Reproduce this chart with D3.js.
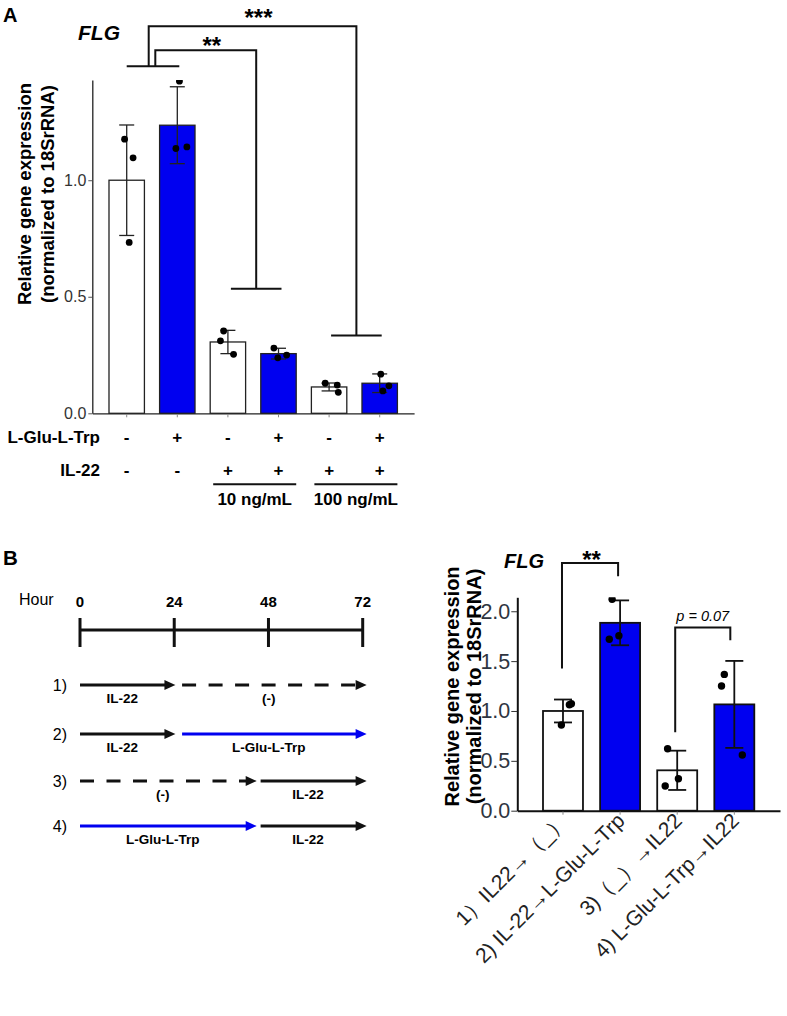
<!DOCTYPE html>
<html><head><meta charset="utf-8">
<script src="https://cdn.jsdelivr.net/npm/d3@7"></script>
<style>body{margin:0;background:#fff}svg{display:block}text{font-family:"Liberation Sans",Arial,sans-serif}</style>
</head><body><svg id="c" width="787" height="1016"></svg>
<script>
// ---------- Panel A data ----------
const catsA = ["a1","a2","a3","a4","a5","a6"];
const gluA = ["-","+","-","+","-","+"];
const il22A = ["-","-","+","+","+","+"];
const meanA = [1.0, 1.236, 0.306, 0.256, 0.113, 0.129];
const sdA = [0.237, 0.165, 0.05, 0.023, 0.017, 0.04];
const ptsA = [[1.176,1.096,0.733],[1.425,1.136,1.143],[0.353,0.311,0.253],[0.28,0.238,0.25],[0.129,0.121,0.09],[0.168,0.118,0.096]];
const jitA = [[-0.06,0.18,0.07],[0.06,-0.04,0.27],[-0.12,-0.21,0.16],[-0.13,-0.02,0.23],[-0.11,0.23,0.26],[0.03,0.26,0.09]];
const ticksA = [0, 0.5, 1.0];
const doseA = ["10 ng/mL","100 ng/mL"];

// ---------- Panel B chart data ----------
const catsB = ["1）IL22→（_）","2) IL-22→L-Glu-L-Trp","3)（_）→IL22","4) L-Glu-L-Trp→IL22"];
const meanB = [1.0, 1.884, 0.405, 1.066];
const sdB = [0.115, 0.225, 0.197, 0.436];
const ptsB = [[0.859,1.063,1.072],[1.72,1.754,2.12],[0.621,0.247,0.32],[1.367,1.25,0.558]];
const jitB = [[-0.04,0.16,0.21],[-0.27,-0.03,-0.2],[-0.24,-0.3,0.03],[-0.25,-0.32,0.2]];
const treatB = ["-","+","-","+"];
const ticksB = [0, 0.5, 1.0, 1.5, 2.0];

// ---------- Panel B timeline data ----------
const hours = [0, 24, 48, 72];
const rowNames = ["1)","2)","3)","4)"];
const segRow   = [0, 0, 1, 1, 2, 2, 3, 3];
const segStart = [0, 26, 0, 26, 0, 46, 0, 46];
const segEnd   = [24.3, 73, 24.3, 73, 45, 73, 45, 73];
const segColor = ["k","k","k","b","k","k","b","k"];
const segDash  = [false,true,false,false,true,false,false,false];
const segLabel = ["IL-22","(-)","IL-22","L-Glu-L-Trp","(-)","IL-22","L-Glu-L-Trp","IL-22"];

const BLUE = "#0000f0";
const svg = d3.select("#c");

// ================= Panel A =================
svg.append("text").attr("x",3).attr("y",21.5).attr("font-size",20).attr("font-weight","bold").text("A");
svg.append("text").attr("x",78).attr("y",40).attr("font-size",21).attr("font-weight","bold").attr("font-style","italic").text("FLG");

const xA = d3.scaleBand().domain(catsA).range([92.3, 414.1]).paddingInner(0.3).paddingOuter(0.33);
const yA = d3.scaleLinear().domain([0, 1.43]).range([413.3, 80]);
const bwA = xA.bandwidth();
const cA = i => xA(catsA[i]) + bwA/2;

const yAxA = svg.append("g").attr("transform","translate(92.3,0)")
  .call(d3.axisLeft(yA).tickValues(ticksA).tickFormat(d3.format(".1f")).tickSize(4).tickSizeOuter(0).tickPadding(2));
yAxA.select(".domain").attr("stroke","#222").attr("stroke-width",1.3);
yAxA.selectAll(".tick line").attr("stroke","#555");
yAxA.selectAll(".tick text").attr("font-size",16).attr("fill","#333").attr("font-family","Liberation Sans, Arial");

const xAxA = svg.append("g").attr("transform","translate(0,413.3)")
  .call(d3.axisBottom(xA).tickSize(4).tickSizeOuter(0).tickFormat(""));
xAxA.select(".domain").attr("stroke","#222").attr("stroke-width",1.3);
xAxA.selectAll(".tick line").attr("stroke","#888");

svg.append("g").selectAll("rect").data(meanA).join("rect")
  .attr("x",(d,i)=>xA(catsA[i])).attr("y",d=>yA(d)).attr("width",bwA).attr("height",d=>yA(0)-yA(d))
  .attr("fill",(d,i)=>gluA[i]==="+"?BLUE:"#fff").attr("stroke","#222").attr("stroke-width",1.3);

const errA = svg.append("g").attr("stroke","#222").attr("stroke-width",1.3);
meanA.forEach((m,i)=>{
  const c=cA(i), hi=yA(m+sdA[i]), lo=yA(m-sdA[i]);
  errA.append("line").attr("x1",c).attr("x2",c).attr("y1",hi).attr("y2",lo);
  errA.append("line").attr("x1",c-7.5).attr("x2",c+7.5).attr("y1",hi).attr("y2",hi);
  errA.append("line").attr("x1",c-7.5).attr("x2",c+7.5).attr("y1",lo).attr("y2",lo);
});
svg.append("clipPath").attr("id","clipA").append("rect").attr("x",92).attr("y",80).attr("width",330).attr("height",340);
const dotsA = svg.append("g").attr("clip-path","url(#clipA)");
ptsA.forEach((arr,i)=>arr.forEach((v,j)=>{
  dotsA.append("circle").attr("cx",cA(i)+jitA[i][j]*bwA).attr("cy",yA(v)).attr("r",3.4).attr("fill","#000");
}));

// brackets A
const brA = svg.append("g").attr("fill","none").attr("stroke","#111").attr("stroke-width",2);
const midA12 = (cA(0)+cA(1))/2;
const s1 = midA12-3.3, s2 = midA12+3.3;
brA.append("path").attr("d",`M${cA(0)},${yA(1.489)}H${cA(1)+2}`);
const h34 = (cA(2)+cA(3))/2+3, h56 = (cA(4)+cA(5))/2+2;
const hw = xA.step()/2;
brA.append("path").attr("d",`M${s2},${yA(1.489)}V${yA(1.558)}H${h34}V${yA(0.534)}M${h34-hw},${yA(0.534)}H${h34+hw}`);
brA.append("path").attr("d",`M${s1},${yA(1.489)}V${yA(1.661)}H${h56}V${yA(0.334)}M${h56-hw},${yA(0.334)}H${h56+hw}`);
svg.append("text").attr("x",(s2+h34)/2+6).attr("y",54).attr("text-anchor","middle").attr("font-size",24).attr("font-weight","bold").text("**");
svg.append("text").attr("x",(s1+h56)/2+6).attr("y",25.5).attr("text-anchor","middle").attr("font-size",24).attr("font-weight","bold").text("***");

// y label A
const ylA = svg.append("g").attr("font-size",18.5).attr("font-weight","bold").attr("text-anchor","middle");
ylA.append("text").attr("transform","translate(30.5,194) rotate(-90)").text("Relative gene expression");
ylA.append("text").attr("transform","translate(54,194) rotate(-90)").text("(normalized to 18SrRNA)");

// condition rows
const rowsA = svg.append("g").attr("font-size",17).attr("font-weight","bold");
rowsA.append("text").attr("x",100).attr("y",442.5).attr("text-anchor","end").text("L-Glu-L-Trp");
rowsA.append("text").attr("x",100).attr("y",475.5).attr("text-anchor","end").text("IL-22");
gluA.forEach((s,i)=>rowsA.append("text").attr("x",cA(i)).attr("y",442.5).attr("text-anchor","middle").text(s));
il22A.forEach((s,i)=>rowsA.append("text").attr("x",cA(i)).attr("y",475.5).attr("text-anchor","middle").text(s));
doseA.forEach((t,k)=>{
  const a=xA(catsA[2+2*k])+3, b=xA(catsA[3+2*k])+bwA;
  svg.append("line").attr("x1",a).attr("x2",b).attr("y1",484.3).attr("y2",484.3).attr("stroke","#111").attr("stroke-width",2);
  rowsA.append("text").attr("x",(a+b)/2).attr("y",505).attr("text-anchor","middle").text(t);
});

// ================= Panel B timeline =================
svg.append("text").attr("x",3).attr("y",565).attr("font-size",20.5).attr("font-weight","bold").text("B");
const xT = d3.scaleLinear().domain([0,72]).range([80, 362.7]);
svg.append("text").attr("x",19).attr("y",605).attr("font-size",16).text("Hour");
const tl = svg.append("g").attr("stroke","#111").attr("stroke-width",3);
tl.append("line").attr("x1",xT(0)).attr("x2",xT(72)).attr("y1",630).attr("y2",630);
hours.forEach(h=>{
  tl.append("line").attr("x1",xT(h)).attr("x2",xT(h)).attr("y1",618).attr("y2",647);
  svg.append("text").attr("x",xT(h)).attr("y",606.5).attr("text-anchor","middle").attr("font-size",15).attr("font-weight","bold").text(h);
});
const rowY = [685, 734, 781, 826];
rowNames.forEach((r,i)=>svg.append("text").attr("x",67).attr("y",rowY[i]+5.5).attr("text-anchor","end").attr("font-size",16).text(r));
segRow.forEach((r,k)=>{
  const y=rowY[r], col=segColor[k]==="b"?BLUE:"#111";
  const a=xT(segStart[k]), tip=xT(segEnd[k]), body=tip-11;
  const ln=svg.append("line").attr("x1",a).attr("x2",body+1).attr("y1",y).attr("y2",y).attr("stroke",col).attr("stroke-width",3);
  if(segDash[k]) ln.attr("stroke-dasharray","14,12.5");
  svg.append("path").attr("d",`M${body},${y-5}L${tip},${y}L${body},${y+5}Z`).attr("fill",col);
  svg.append("text").attr("x",(a+body)/2).attr("y",y+18).attr("text-anchor","middle").attr("font-size",13.5).attr("font-weight","bold").text(segLabel[k]);
});

// ================= Panel B chart =================
svg.append("text").attr("x",504).attr("y",568).attr("font-size",20).attr("font-weight","bold").attr("font-style","italic").text("FLG");
const xB = d3.scaleBand().domain(catsB).range([517.3, 780]).paddingInner(0.3).paddingOuter(0.45);
const yB = d3.scaleLinear().domain([0, 2.14]).range([810.7, 597.3]);
const bwB = xB.bandwidth();
const cB = i => xB(catsB[i]) + bwB/2;

const yAxB = svg.append("g").attr("transform","translate(517.3,0)")
  .call(d3.axisLeft(yB).tickValues(ticksB).tickFormat(d3.format(".1f")).tickSize(6).tickSizeOuter(0).tickPadding(1));
yAxB.select(".domain").attr("stroke","#111").attr("stroke-width",2);
yAxB.selectAll(".tick line").attr("stroke","#333");
yAxB.selectAll(".tick text").attr("font-size",21.5).attr("fill","#2e3440").attr("font-family","Liberation Sans, Arial");

const xAxB = svg.append("g").attr("transform","translate(0,810.7)")
  .call(d3.axisBottom(xB).tickSize(4).tickSizeOuter(0).tickFormat(""));
xAxB.select(".domain").attr("stroke","#111").attr("stroke-width",2);
xAxB.selectAll(".tick line").attr("stroke","#888");

const ylB = svg.append("g").attr("font-size",20).attr("font-weight","bold").attr("text-anchor","middle");
ylB.append("text").attr("transform","translate(459,686.5) rotate(-90)").text("Relative gene expression");
ylB.append("text").attr("transform","translate(481,686.5) rotate(-90)").text("(normalized to 18SrRNA)");

svg.append("g").selectAll("rect").data(meanB).join("rect")
  .attr("x",(d,i)=>xB(catsB[i])).attr("y",d=>yB(d)).attr("width",bwB).attr("height",d=>yB(0)-yB(d))
  .attr("fill",(d,i)=>treatB[i]==="+"?BLUE:"#fff").attr("stroke","#111").attr("stroke-width",1.8);

const errB = svg.append("g").attr("stroke","#111").attr("stroke-width",1.8);
meanB.forEach((m,i)=>{
  const c=cB(i), hi=yB(m+sdB[i]), lo=yB(m-sdB[i]);
  errB.append("line").attr("x1",c).attr("x2",c).attr("y1",hi).attr("y2",lo);
  errB.append("line").attr("x1",c-9).attr("x2",c+9).attr("y1",hi).attr("y2",hi);
  errB.append("line").attr("x1",c-9).attr("x2",c+9).attr("y1",lo).attr("y2",lo);
});
svg.append("clipPath").attr("id","clipB").append("rect").attr("x",517).attr("y",597.3).attr("width",270).attr("height",220);
const dotsB = svg.append("g").attr("clip-path","url(#clipB)");
ptsB.forEach((arr,i)=>arr.forEach((v,j)=>{
  dotsB.append("circle").attr("cx",cB(i)+jitB[i][j]*bwB).attr("cy",yB(v)).attr("r",3.7).attr("fill","#000");
}));

// x labels B
catsB.forEach((t,i)=>{
  svg.append("text").attr("transform",`translate(${cB(i)+6},${822}) rotate(-45)`)
    .attr("text-anchor","end").attr("font-size",21).attr("fill","#222")
    .attr("font-family","'Noto Sans CJK JP', sans-serif").text(t);
});

// brackets B
const brB = svg.append("g").attr("fill","none").attr("stroke","#111").attr("stroke-width",2);
brB.append("path").attr("d",`M${cB(0)-1},${yB(1.427)}V${yB(2.485)}H${cB(1)-2}V${yB(2.352)}`);
brB.append("path").attr("d",`M${cB(2)-2},${yB(0.786)}V${yB(1.838)}H${cB(3)-4}V${yB(1.71)}`);
svg.append("text").attr("x",(cB(0)+cB(1))/2).attr("y",568).attr("text-anchor","middle").attr("font-size",24).attr("font-weight","bold").text("**");
svg.append("text").attr("x",(cB(2)+cB(3))/2-3).attr("y",620.5).attr("text-anchor","middle").attr("font-size",14.5).attr("font-style","italic").text("p = 0.07");
</script></body></html>
